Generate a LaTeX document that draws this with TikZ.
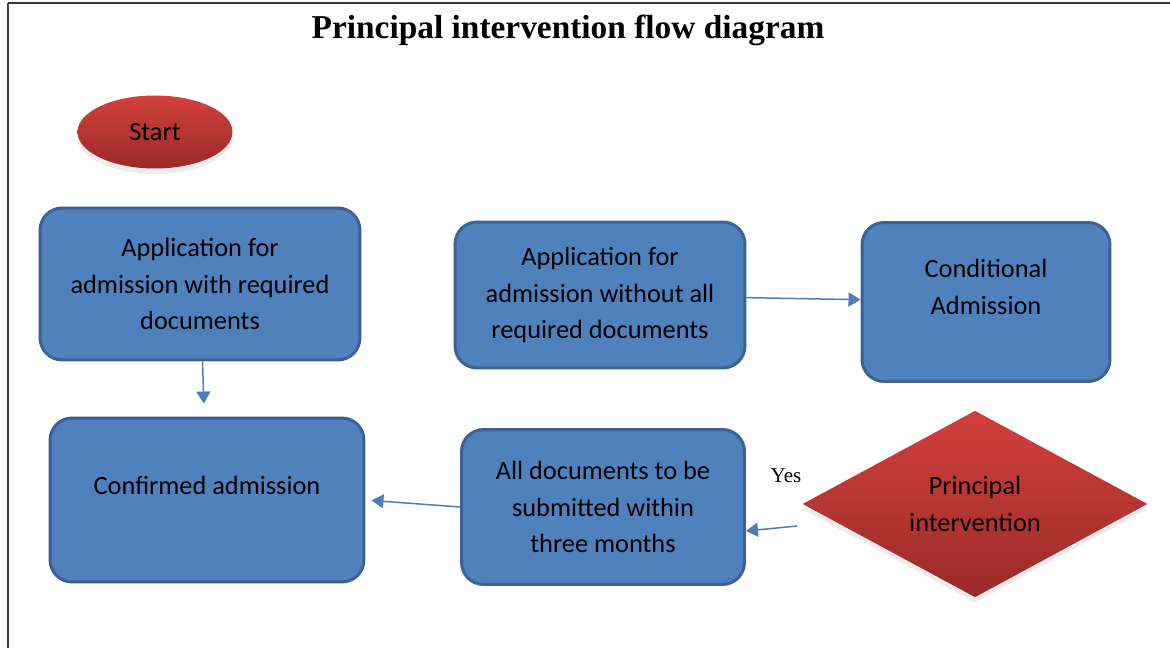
\documentclass[tikz,border=0pt]{standalone}
\usepackage{fontspec}
\setmainfont{Carlito}
\newfontfamily\titlefont{Liberation Serif}
\usetikzlibrary{positioning,arrows.meta,shapes.geometric,shadows}
\definecolor{boxfill}{HTML}{4F81BD}
\definecolor{boxline}{HTML}{3A6393}
\definecolor{redtop}{HTML}{D2403C}
\definecolor{redbot}{HTML}{9A2A28}
\definecolor{flowline}{HTML}{4A7EBB}

\begin{document}
\begin{tikzpicture}[x=0.02cm,y=-0.02cm,
    every node/.style={font=\fontsize{15}{20.8}\selectfont},
    stepbox/.style={rectangle,rounded corners=0.44cm,fill=boxfill,draw=boxline,
      line width=1.7pt,align=center,inner sep=2pt},
    redshape/.style={top color=redtop,bottom color=redbot,draw=none,
      drop shadow={opacity=0.15,shadow xshift=0pt,shadow yshift=-3pt}},
    flow/.style={draw=flowline,line width=0.85pt,-{Triangle[width=0.28cm,length=0.24cm]}}]
    \useasboundingbox (0,0) rectangle (1170,648);
    % frame
    \draw[draw=black!75,line width=0.8pt] (8,648) -- (8,3);
    \draw[draw=black!80,line width=1.4pt] (8,3) -- (1170,3);
    % title
    \node (title) at (568,30) {\titlefont\bfseries\fontsize{19}{22}\selectfont Principal intervention flow diagram};
    % start
    \node[redshape,ellipse,minimum width=3.1cm,minimum height=1.46cm] (start) at (155,132) {Start};
    % left column
    \node[stepbox,minimum width=6.4cm,minimum height=3.04cm] (withdocs) at (200,284)
      {Application for\\admission with required\\documents};
    \node[stepbox,minimum width=6.28cm,minimum height=3.28cm,text depth=0.6cm] (confirmed) at (207,500)
      {Confirmed admission};
    % middle column
    \node[stepbox,minimum width=5.8cm,minimum height=2.92cm] (withoutdocs) at (600,295)
      {Application for\\admission without all\\required documents};
    \node[stepbox,minimum width=5.66cm,minimum height=3.1cm] (submit) at (603,507)
      {All documents to be\\submitted within\\three months};
    % right column
    \node[stepbox,minimum width=4.96cm,minimum height=3.18cm,text depth=0.6cm] (conditional) at (986,302)
      {Conditional\\Admission};
    \node[redshape,diamond,minimum width=6.9cm,minimum height=3.58cm,align=center,inner sep=0pt] (principal) at (975,504)
      {Principal\\intervention};
    % connectors
    \draw[flow,shorten >=0.26cm] (withdocs) -- (confirmed);
    \draw[flow] (withoutdocs) -- (conditional);
    \draw[flow,shorten >=0.12cm] (submit.west) -- (confirmed.east);
    \coordinate (yesfrom) at (797,526);
    \draw[flow] (yesfrom) -- ([yshift=-0.48cm]submit.east);
    \node (yes) at (786,476) {\titlefont\fontsize{12}{14}\selectfont Yes};
  \end{tikzpicture}
\end{document}
